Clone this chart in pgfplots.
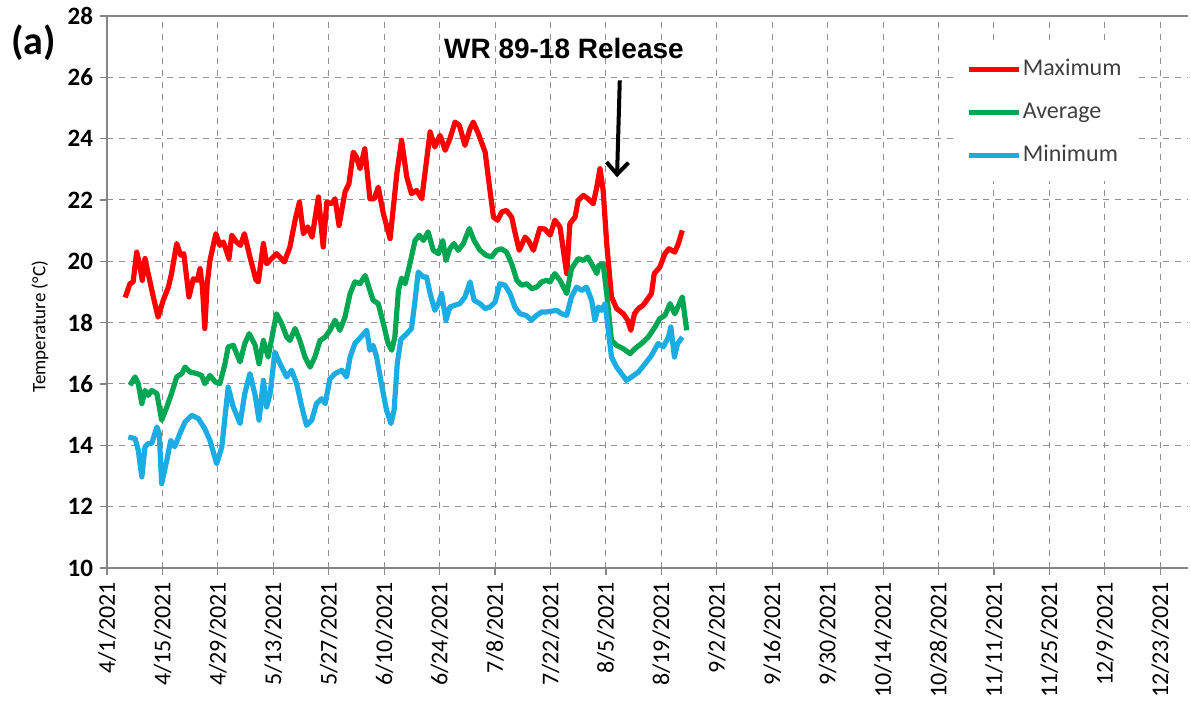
\documentclass[border=0pt]{standalone}
\usepackage{fontspec}
\setmainfont{Carlito}
\newfontfamily\titlefont{Liberation Sans}
\usepackage{pgfplots}
\pgfplotsset{compat=1.18}
\usetikzlibrary{arrows.meta}

\definecolor{maxred}{HTML}{FF0000}
\definecolor{avggreen}{HTML}{00A651}
\definecolor{minblue}{HTML}{1AACE3}
\definecolor{gridgray}{HTML}{8F8F8F}
\definecolor{axisgray}{HTML}{868686}
\definecolor{legtext}{HTML}{404040}

\begin{document}
\begin{tikzpicture}
\begin{axis}[
    scale only axis,
    width=540.5pt, height=276pt,
    xmin=0, xmax=273, ymin=10, ymax=28,
    xtick={0,14,...,266},
    xticklabels={4/1/2021,4/15/2021,4/29/2021,5/13/2021,5/27/2021,6/10/2021,6/24/2021,7/8/2021,7/22/2021,8/5/2021,8/19/2021,9/2/2021,9/16/2021,9/30/2021,10/14/2021,10/28/2021,11/11/2021,11/25/2021,12/9/2021,12/23/2021},
    ytick={10,12,...,28},
    grid=major,
    grid style={dashed, gridgray, line width=0.5pt},
    axis x line*=bottom, axis y line*=left,
    axis line style={axisgray, line width=0.8pt, -},
    tick style={axisgray, line width=0.6pt},
    major tick length=3.5pt,
    tick align=outside,
    x tick label style={rotate=90, anchor=east, font=\fontsize{12}{12}\selectfont},
    y tick label style={font=\bfseries\fontsize{12.5}{12}\selectfont},
    /pgf/number format/assume math mode=true,
    ylabel={Temperature (°C)},
    every axis y label/.style={at={(rel axis cs:0,0.437)}, xshift=-33.5pt, rotate=90, anchor=center, font=\fontsize{9.5}{10}\selectfont},
    legend style={at={(0.786,0.951)}, anchor=north west, draw=none, fill=white,
        font=\fontsize{12}{12}\selectfont\color{legtext}, row sep=8pt,
        inner xsep=5pt, inner ysep=6pt, nodes={inner xsep=0.5pt},
        /tikz/every odd column/.style={column sep=0pt}},
    legend cell align=left,
    legend image code/.code={\draw[#1, line width=2.4pt] (0pt,0pt) -- (25pt,0pt);},
    every axis plot/.append style={line width=2.6pt, line join=round},
]

\addplot[maxred] coordinates {
(4.6,18.82) (5.8,19.27) (6.6,19.33) (7.5,20.30) (8.2,19.92) (8.9,19.38) (9.6,20.09)
(10.4,19.60) (11.7,18.84) (12.9,18.18) (14.2,18.73) (15.5,19.16) (16.3,19.60) (17.6,20.58)
(18.6,20.20) (19.4,20.25) (20.7,18.84) (21.8,19.43) (22.8,19.38) (23.5,19.76) (24.1,19.16)
(24.7,17.81) (25.3,19.27) (26.0,20.03) (27.5,20.90) (28.5,20.52) (29.4,20.63) (30.8,20.09)
(31.5,20.85) (32.7,20.63) (33.7,20.52) (34.7,20.90) (36.1,20.14) (37.6,19.40) (38.2,19.33)
(39.5,20.58) (40.3,19.92) (41.6,20.09) (42.8,20.25) (44.8,19.98) (46.2,20.47) (47.5,21.34)
(48.6,21.93) (49.6,20.90) (50.7,21.12) (51.8,20.79) (53.4,22.10) (54.6,20.47) (55.5,21.93)
(56.7,21.88) (57.6,22.04) (58.6,21.17) (60.1,22.26) (61.1,22.53) (62.2,23.56) (63.0,23.40)
(63.9,23.02) (65.1,23.67) (66.4,22.04) (67.5,22.04) (68.5,22.42) (69.8,21.55) (71.5,20.74)
(73.2,22.86) (74.4,23.95) (75.7,22.75) (76.9,22.21) (78.2,22.31) (79.5,22.04) (81.6,24.22)
(82.8,23.73) (84.1,24.11) (85.4,23.62) (86.6,24.00) (87.9,24.54) (89.0,24.43) (90.4,23.78)
(91.7,24.33) (92.5,24.54) (93.8,24.16) (95.5,23.56) (96.5,22.53) (97.6,21.44) (98.6,21.34)
(99.7,21.61) (100.9,21.66) (102.2,21.44) (103.0,20.96) (104.1,20.36) (105.6,20.79) (106.4,20.68)
(107.7,20.36) (109.3,21.07) (110.6,21.05) (111.9,20.85) (113.1,21.34) (114.4,21.12) (116.1,19.60)
(116.9,21.23) (118.2,21.44) (119.0,21.99) (120.3,22.15) (121.5,22.04) (122.8,21.88) (123.7,22.42)
(124.5,23.02) (125.3,22.31) (126.2,20.58) (127.4,18.84) (128.7,18.46) (130.4,18.29) (131.5,18.08)
(132.3,17.75) (133.2,18.29) (134.2,18.46) (135.4,18.57) (136.3,18.73) (137.5,18.95) (138.2,19.60)
(139.6,19.81) (140.9,20.25) (141.9,20.41) (143.4,20.30) (144.3,20.58) (145.3,21.01)
};
\addlegendentry{Maximum}

\addplot[avggreen] coordinates {
(5.8,15.96) (7.1,16.23) (7.9,16.01) (8.8,15.36) (9.6,15.79) (10.4,15.63) (11.3,15.79)
(12.6,15.69) (13.8,14.82) (15.1,15.25) (16.3,15.69) (17.6,16.23) (18.9,16.34) (19.7,16.55)
(21.0,16.39) (22.7,16.34) (23.9,16.28) (24.7,16.01) (26.0,16.28) (27.3,16.07) (28.5,16.01)
(29.8,16.66) (30.6,17.21) (31.9,17.26) (33.6,16.72) (34.8,17.32) (35.9,17.64) (37.4,17.27)
(38.4,16.66) (39.5,17.42) (40.7,16.88) (42.0,17.75) (42.8,18.29) (44.1,17.97) (45.4,17.53)
(46.2,17.42) (47.5,17.81) (48.7,17.42) (50.0,16.88) (51.3,16.55) (52.5,16.88) (53.8,17.42)
(55.1,17.53) (56.3,17.75) (57.6,18.08) (58.8,17.75) (60.1,18.18) (61.4,18.95) (62.6,19.33)
(63.9,19.27) (65.2,19.54) (66.4,19.05) (67.2,18.73) (68.5,18.62) (69.8,17.97) (71.0,17.32)
(71.9,17.10) (72.7,17.53) (73.6,19.05) (74.4,19.45) (75.3,19.27) (76.5,19.92) (77.8,20.68)
(78.9,20.85) (79.9,20.68) (81.1,20.96) (82.4,20.36) (83.7,20.25) (84.8,20.68) (85.6,20.03)
(86.6,20.41) (87.6,20.58) (88.7,20.36) (90.0,20.58) (91.5,21.07) (92.7,20.68) (94.2,20.36)
(95.7,20.20) (97.1,20.14) (98.4,20.36) (99.6,20.41) (100.9,20.30) (102.2,19.92) (103.5,19.38)
(104.7,19.22) (106.0,19.27) (107.3,19.11) (108.5,19.16) (109.8,19.33) (111.0,19.38) (111.9,19.33)
(113.1,19.60) (114.4,19.38) (116.1,18.95) (117.3,19.76) (119.0,20.09) (120.3,20.03) (121.4,20.14)
(122.4,19.92) (123.7,19.60) (124.2,19.87) (125.3,19.92) (126.2,18.95) (127.4,17.42) (128.7,17.26)
(130.4,17.15) (132.1,16.99) (133.3,17.15) (135.0,17.32) (136.7,17.53) (138.4,17.86) (139.6,18.13)
(140.9,18.24) (142.2,18.62) (143.4,18.29) (145.3,18.84) (146.4,17.75)
};
\addlegendentry{Average}

\addplot[minblue] coordinates {
(5.4,14.27) (7.1,14.22) (7.9,13.84) (8.8,12.97) (9.6,13.95) (10.4,14.06) (11.3,14.06)
(12.6,14.60) (13.2,14.38) (13.8,12.75) (15.1,13.51) (16.1,14.16) (17.1,13.95) (18.4,14.38)
(19.7,14.76) (21.4,14.98) (23.1,14.87) (24.7,14.54) (26.0,14.16) (27.7,13.40) (29.0,13.95)
(29.8,14.92) (30.6,15.90) (31.9,15.25) (33.6,14.71) (34.8,15.69) (36.1,16.34) (37.4,15.64)
(38.4,14.82) (39.5,16.12) (40.3,15.25) (41.2,15.69) (42.4,17.04) (43.7,16.66) (45.4,16.23)
(46.6,16.45) (47.9,16.01) (49.2,15.25) (50.4,14.65) (51.7,14.82) (52.9,15.36) (54.2,15.52)
(55.1,15.36) (56.3,16.17) (57.6,16.34) (59.3,16.45) (60.5,16.23) (61.4,16.88) (62.6,17.32)
(64.1,17.53) (65.6,17.75) (66.4,17.10) (67.2,17.26) (68.1,16.88) (69.3,16.01) (70.6,15.14)
(71.7,14.71) (72.5,15.14) (73.3,16.66) (74.2,17.45) (75.7,17.64) (76.9,17.81) (77.8,18.73)
(78.6,19.65) (79.9,19.49) (80.7,19.49) (81.6,18.95) (82.8,18.40) (83.7,18.62) (84.5,18.95)
(85.6,18.08) (86.6,18.51) (87.9,18.57) (89.1,18.62) (90.4,18.84) (91.7,19.33) (92.7,18.73)
(94.2,18.62) (95.5,18.46) (96.7,18.51) (98.0,18.67) (99.2,19.27) (100.5,19.22) (101.8,18.95)
(103.0,18.51) (104.3,18.29) (105.8,18.24) (107.2,18.08) (108.5,18.24) (109.8,18.35) (111.0,18.35)
(113.6,18.40) (114.8,18.29) (116.1,18.24) (117.3,18.84) (118.6,19.16) (119.9,19.05) (121.1,19.16)
(122.4,18.73) (123.2,18.08) (124.1,18.51) (124.9,18.40) (125.8,18.62) (126.6,17.75) (127.4,16.88)
(128.7,16.55) (129.9,16.34) (131.2,16.12) (132.5,16.23) (134.2,16.39) (135.9,16.66) (137.5,16.93)
(139.2,17.32) (140.5,17.21) (141.8,17.53) (142.4,17.86) (143.3,16.88) (144.1,17.32) (145.3,17.53)
};
\addlegendentry{Minimum}

% top border of the plot area
\draw[axisgray, line width=0.8pt] (rel axis cs:0,1) -- (rel axis cs:1,1);

\node[font=\titlefont\bfseries\fontsize{14}{14}\selectfont] at (axis cs:115.4,26.95) {WR 89-18 Release};
\draw[line width=2pt, -{Straight Barb[length=6pt,width=11pt]}] (axis cs:129.5,25.9) -- (axis cs:128.8,22.74);
\end{axis}

\node[font=\bfseries\fontsize{20}{20}\selectfont] at (-36.75pt,262.5pt) {(a)};

\pgfresetboundingbox
\path[use as bounding box] (-53.5pt,-71.5pt) rectangle (542pt,284pt);
\end{tikzpicture}
\end{document}
